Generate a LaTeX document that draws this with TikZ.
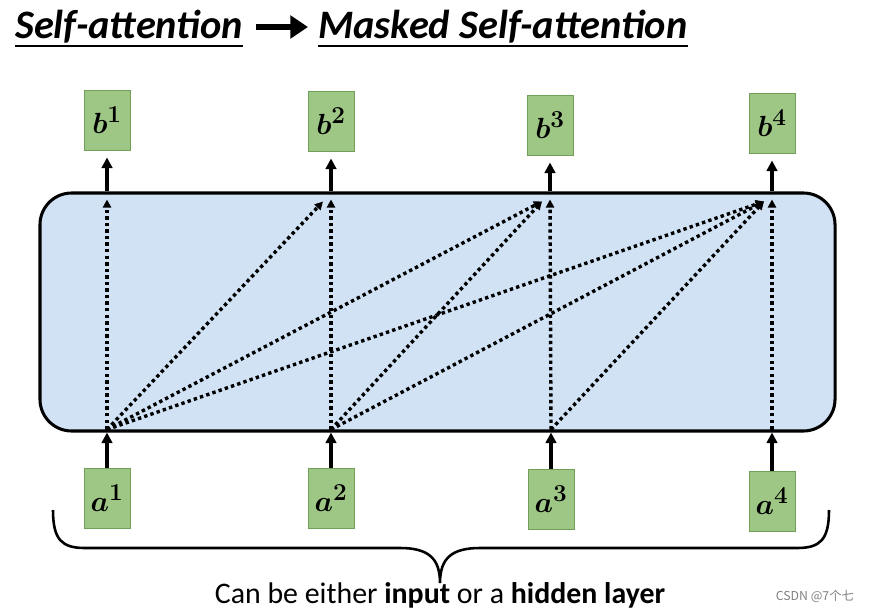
\documentclass[tikz,border=0pt]{standalone}
\usepackage{amsmath,amssymb,bm}
\usepackage[no-math]{fontspec}
\setmainfont{Carlito}
\newfontfamily\cjkfont{Noto Sans CJK SC}
\usetikzlibrary{arrows.meta,positioning,calc}
\definecolor{GreenBox}{RGB}{158,199,133}
\definecolor{GreenEdge}{RGB}{112,160,88}
\definecolor{BlueLayer}{RGB}{208,226,244}

\begin{document}
\begin{tikzpicture}[x=0.03cm,y=-0.03cm,>=Latex,
  vecbox/.style={draw=GreenEdge,fill=GreenBox,line width=0.8pt,minimum width=1.38cm,minimum height=1.8cm,inner sep=0pt,font=\fontsize{28}{32}\selectfont},
  solidarr/.style={-{Triangle[length=9pt,width=9pt]},line width=2.6pt},
  dotarr/.style={-{Triangle[length=7pt,width=7pt]},line width=2.9pt,dash pattern=on 2.9pt off 2.7pt},
  titletext/.style={inner sep=0pt,font=\fontsize{34.5}{40}\selectfont\bfseries\itshape}]
  \useasboundingbox (0,0) rectangle (872,610);
  % title
  \node[titletext,anchor=base west] (self) at (15,38) {Self-attention};
  \node[titletext,anchor=base west] (masked) at (318,38) {Masked Self-attention};
  \draw[line width=1.1pt] ($(self.base west)+(0,8)$) -- ($(self.base east)+(0,8)$);
  \draw[line width=1.1pt] ($(masked.base west)+(0,8)$) -- ($(masked.base east)+(0,8)$);
  \draw[-{Triangle[length=15pt,width=19pt]},line width=4.5pt] ($(self.base east)+(13,-11)$) -- ($(masked.base west)+(-10,-11)$);
  % attention layer
  \node[draw,line width=2.6pt,fill=BlueLayer,rounded corners=0.95cm,minimum width=23.85cm,minimum height=7.14cm] (layer) at (437.5,312) {};
  % vectors
  \node[vecbox] (b1) at (107,120) {$\boldsymbol{b}^{\mathbf{1}}$};
  \node[vecbox] (b2) at (331,121) {$\boldsymbol{b}^{\mathbf{2}}$};
  \node[vecbox] (b3) at (550,125) {$\boldsymbol{b}^{\mathbf{3}}$};
  \node[vecbox] (b4) at (772,123) {$\boldsymbol{b}^{\mathbf{4}}$};
  \node[vecbox] (a1) at (107,498) {$\boldsymbol{a}^{\mathbf{1}}$};
  \node[vecbox] (a2) at (331,498) {$\boldsymbol{a}^{\mathbf{2}}$};
  \node[vecbox] (a3) at (551,499) {$\boldsymbol{a}^{\mathbf{3}}$};
  \node[vecbox] (a4) at (772,501) {$\boldsymbol{a}^{\mathbf{4}}$};
  \foreach \k in {1,...,4} {
    \draw[solidarr] (a\k) -- (a\k |- layer.south);
    \draw[solidarr,shorten >=6] (b\k |- layer.north) -- (b\k);
    \coordinate (in\k) at ($(a\k |- layer.south)+(0,-3)$);
    \coordinate (out\k) at ($(b\k |- layer.north)+(0,8)$);
  }
  % masked connections
  \foreach \i in {1,...,4} {
    \foreach \j in {\i,...,4} {
      \ifnum\i=\j
        \draw[dotarr] (in\i) -- (out\j);
      \else
        \draw[dotarr] (in\i) -- ($(out\j)+(-8,2)$);
      \fi
    }
  }
  % brace
  \draw[line width=2.2pt] (53,510) .. controls (53,540) and (62,548) .. (85,548) -- (400,548)
    .. controls (428,548) and (440,558) .. (440,583)
    .. controls (440,558) and (452,548) .. (480,548) -- (797,548)
    .. controls (820,548) and (829,540) .. (829,510);
  \node[anchor=base,font=\fontsize{25.5}{28}\selectfont] (caption) at (440,603) {Can be either \textbf{input} or a \textbf{hidden layer}};
  \node[anchor=base east,text=gray,font=\cjkfont\fontsize{10.5}{12}\selectfont] (mark) at (858,600) {CSDN @7个七};
\end{tikzpicture}
\end{document}
